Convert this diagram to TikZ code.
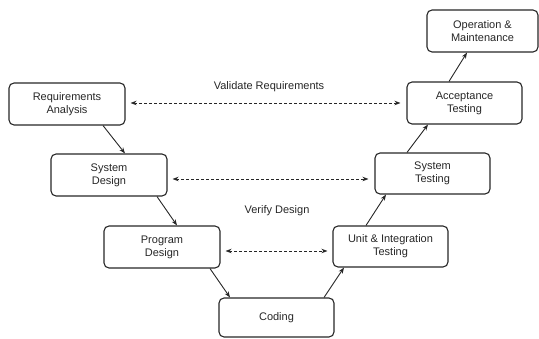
\documentclass[tikz,border=0pt]{standalone}
\usepackage{fontspec}
\setmainfont{Liberation Sans}
\usetikzlibrary{arrows.meta,calc}
\begin{document}
\begin{tikzpicture}[x=1pt,y=-1pt,
  phase/.style={draw=black!85, line width=1.1pt, rounded corners=5pt,
    minimum width=116pt, minimum height=42pt, inner sep=0pt,
    font=\fontsize{11}{13}\selectfont, align=center, text=black!85},
  lbl/.style={font=\fontsize{11}{13}\selectfont, align=center, text=black!85},
  flow/.style={draw=black!85, line width=0.9pt, -{Stealth[length=6pt,width=4.5pt]}},
  check/.style={draw=black!85, line width=0.8pt, dash pattern=on 3pt off 2pt,
    {Stealth[length=6pt,width=4.5pt]}-{Stealth[length=6pt,width=4.5pt]}}]
\useasboundingbox (0,0) rectangle (539,339);

% Phases of the V model
\node[phase] (ra) at (67,104) {Requirements\\Analysis};
\node[phase] (sd) at (109,175) {System\\Design};
\node[phase] (pd) at (162,247) {Program\\Design};
\node[phase, minimum width=115pt, minimum height=39pt] (cd) at (276.5,317.5) {Coding};
\node[phase, minimum width=115pt, minimum height=41pt] (ut) at (390.5,246.5) {Unit \& Integration\\Testing};
\node[phase, minimum width=115pt, minimum height=41pt] (st) at (432.5,173.5) {System\\Testing};
\node[phase, minimum width=115pt] (at) at (464.5,103) {Acceptance\\Testing};
\node[phase, minimum width=111pt] (om) at (482.5,31) {Operation \&\\Maintenance};

% Sequential flow down the left leg and up the right leg
\draw[flow] ($(ra.south)+(36,0)$) -- ($(sd.north)+(16,0)$);
\draw[flow] ($(sd.south)+(48,0)$) -- ($(pd.north)+(15,0)$);
\draw[flow] ($(pd.south)+(48,0)$) -- ($(cd.north)+(-46.5,0)$);
\draw[flow] ($(cd.north)+(47.5,0)$) -- ($(ut.south)+(-46.5,0)$);
\draw[flow] ($(ut.north)+(-24.5,0)$) -- ($(st.south)+(-46.5,0)$);
\draw[flow] ($(st.north)+(-25.5,0)$) -- ($(at.south)+(-36.5,0)$);
\draw[flow] ($(at.north)+(-15.5,0)$) -- ($(om.south)+(-15.5,0)$);

% Verification and validation links across the V
\draw[check] ($(ra.east)+(5,-1)$) -- ($(at.west)+(-6,0)$);
\draw[check] ($(sd.east)+(5,4)$) -- ($(st.west)+(-6,5.5)$);
\draw[check] ($(pd.east)+(5,4)$) -- ($(ut.west)+(-5,4.5)$);
\node[lbl] (vr) at (269,87) {Validate Requirements};
\node[lbl] (vd) at (277,211) {Verify Design};
\end{tikzpicture}
\end{document}
